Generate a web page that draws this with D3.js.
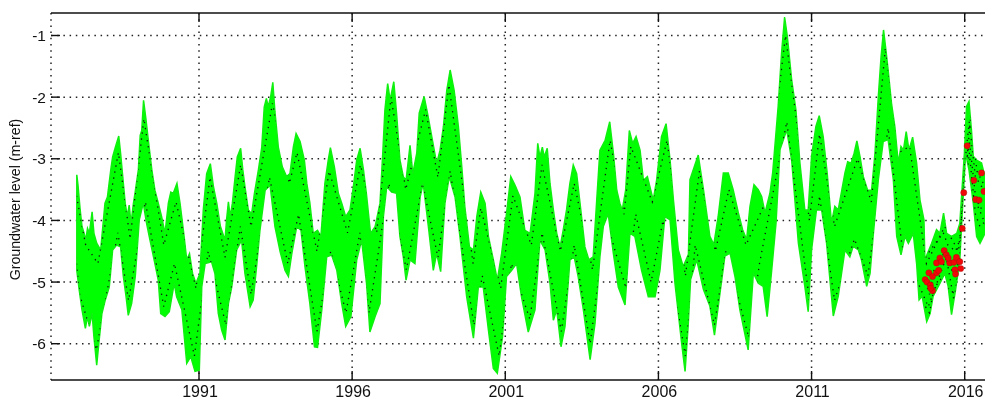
<!DOCTYPE html>
<html><head><meta charset="utf-8">
<script src="https://cdnjs.cloudflare.com/ajax/libs/d3/7.8.5/d3.min.js"></script>
<style>html,body{margin:0;padding:0;background:#fff}svg{display:block;filter:blur(0.35px)}text{font-family:"Liberation Sans",Arial,sans-serif;fill:#111}</style>
</head><body><svg id="c" width="985" height="403"></svg>
<script>
const xTickYears=[1991,1996,2001,2006,2011,2016];
const yTicks=[-1,-2,-3,-4,-5,-6];
const yLabel="Groundwater level (m-ref)";
const upperYears=[1987.01,1987.05,1987.12,1987.18,1987.25,1987.30,1987.36,1987.42,1987.51,1987.57,1987.66,1987.79,1987.86,1987.93,1988.01,1988.12,1988.18,1988.26,1988.38,1988.44,1988.51,1988.59,1988.66,1988.72,1988.78,1988.86,1988.91,1989.02,1989.08,1989.13,1989.19,1989.27,1989.35,1989.46,1989.56,1989.67,1989.78,1989.89,1990.00,1990.08,1990.16,1990.28,1990.38,1990.49,1990.60,1990.69,1990.79,1990.90,1991.03,1991.14,1991.25,1991.37,1991.47,1991.58,1991.70,1991.85,1991.90,1991.96,1992.02,1992.09,1992.18,1992.25,1992.36,1992.43,1992.50,1992.61,1992.72,1992.81,1992.94,1993.05,1993.13,1993.20,1993.26,1993.34,1993.41,1993.48,1993.59,1993.72,1993.86,1993.97,1994.08,1994.17,1994.30,1994.44,1994.52,1994.62,1994.73,1994.87,1994.98,1995.11,1995.22,1995.29,1995.42,1995.55,1995.66,1995.79,1995.93,1996.04,1996.15,1996.26,1996.37,1996.47,1996.60,1996.75,1996.91,1997.00,1997.07,1997.16,1997.24,1997.36,1997.45,1997.56,1997.67,1997.76,1997.89,1997.98,1998.11,1998.19,1998.35,1998.46,1998.60,1998.76,1998.87,1998.98,1999.09,1999.20,1999.33,1999.47,1999.58,1999.68,1999.83,1999.96,2000.07,2000.20,2000.34,2000.45,2000.61,2000.74,2000.88,2001.04,2001.18,2001.32,2001.48,2001.64,2001.81,2001.97,2002.06,2002.13,2002.21,2002.27,2002.37,2002.46,2002.57,2002.68,2002.79,2002.89,2003.00,2003.11,2003.22,2003.33,2003.44,2003.60,2003.73,2003.87,2003.98,2004.09,2004.26,2004.41,2004.53,2004.64,2004.74,2004.82,2004.93,2005.05,2005.16,2005.27,2005.40,2005.51,2005.64,2005.75,2005.83,2005.94,2006.10,2006.25,2006.38,2006.49,2006.65,2006.81,2006.98,2007.03,2007.19,2007.30,2007.47,2007.68,2007.81,2007.95,2008.12,2008.28,2008.44,2008.61,2008.75,2008.88,2008.99,2009.12,2009.26,2009.37,2009.48,2009.64,2009.73,2009.91,2010.02,2010.12,2010.21,2010.35,2010.49,2010.62,2010.78,2010.89,2011.00,2011.14,2011.25,2011.38,2011.51,2011.65,2011.76,2011.87,2012.09,2012.18,2012.29,2012.39,2012.48,2012.58,2012.69,2012.83,2012.96,2013.07,2013.18,2013.27,2013.35,2013.44,2013.50,2013.61,2013.72,2013.83,2013.92,2014.00,2014.09,2014.18,2014.30,2014.43,2014.54,2014.67,2014.70,2014.92,2015.08,2015.19,2015.31,2015.41,2015.57,2015.74,2015.84,2015.99,2016.06,2016.14,2016.22,2016.28,2016.39,2016.55,2016.66,2016.72];
const upperLevels=[-3.26,-3.43,-3.83,-4.10,-4.21,-4.32,-4.13,-4.21,-3.86,-4.21,-4.37,-4.48,-4.10,-3.72,-3.62,-3.18,-2.97,-2.83,-2.63,-2.91,-3.29,-3.72,-3.94,-3.75,-4.05,-3.72,-3.56,-3.18,-2.62,-2.54,-2.05,-2.37,-2.72,-3.18,-3.51,-3.72,-3.94,-4.21,-3.72,-3.54,-3.56,-3.40,-3.72,-4.16,-4.64,-4.54,-4.86,-5.02,-4.86,-3.83,-3.24,-3.08,-3.45,-3.72,-4.10,-4.32,-3.99,-3.70,-3.94,-3.72,-3.29,-2.97,-2.83,-3.18,-3.45,-3.83,-3.89,-3.56,-3.18,-2.81,-2.16,-2.02,-2.16,-1.99,-1.76,-2.24,-2.81,-3.13,-3.29,-3.24,-2.81,-2.59,-2.72,-3.02,-3.40,-3.72,-4.21,-4.16,-4.26,-3.40,-3.02,-2.82,-3.13,-3.56,-3.72,-3.94,-3.83,-3.45,-3.02,-2.83,-3.18,-3.59,-4.21,-4.10,-3.72,-2.91,-2.21,-1.78,-2.05,-1.75,-2.26,-3.02,-3.29,-3.35,-2.78,-3.24,-2.91,-2.26,-1.99,-2.26,-2.64,-3.08,-2.86,-2.48,-1.89,-1.56,-1.89,-2.48,-3.13,-3.78,-4.43,-4.48,-3.94,-3.54,-3.72,-4.26,-4.64,-4.97,-4.54,-3.89,-3.29,-3.43,-3.62,-4.16,-4.21,-3.56,-2.75,-2.97,-2.81,-2.97,-2.83,-3.40,-3.83,-4.21,-4.43,-4.16,-3.83,-3.40,-3.10,-3.24,-3.72,-4.43,-4.64,-4.59,-3.72,-2.86,-2.70,-2.40,-2.91,-3.51,-3.72,-3.83,-3.51,-2.54,-2.75,-2.64,-2.86,-3.35,-3.29,-3.51,-3.67,-3.35,-2.64,-2.43,-3.02,-3.67,-4.48,-4.75,-4.55,-3.34,-3.10,-2.94,-3.50,-4.26,-4.39,-3.94,-3.23,-3.23,-3.50,-3.88,-4.15,-4.31,-3.77,-3.42,-3.50,-3.61,-3.88,-3.56,-3.23,-2.15,-1.29,-0.70,-1.02,-1.72,-2.21,-3.07,-3.83,-3.83,-2.96,-2.48,-2.30,-2.64,-3.23,-4.04,-3.77,-3.83,-3.23,-3.05,-3.07,-2.91,-2.71,-2.96,-3.29,-3.51,-3.51,-2.91,-1.99,-1.34,-0.91,-1.29,-1.56,-2.10,-2.48,-3.07,-2.80,-2.86,-2.56,-2.86,-2.65,-3.07,-3.67,-3.99,-4.64,-4.37,-4.15,-4.21,-3.88,-4.21,-4.26,-4.21,-4.05,-2.91,-2.15,-2.07,-2.53,-2.96,-3.02,-3.07,-3.29,-3.30];
const lowerYears=[1987.01,1987.09,1987.18,1987.29,1987.36,1987.42,1987.51,1987.57,1987.66,1987.73,1987.83,1987.94,1988.07,1988.18,1988.31,1988.44,1988.53,1988.62,1988.69,1988.80,1988.92,1989.05,1989.18,1989.29,1989.40,1989.56,1989.67,1989.75,1989.89,1990.03,1990.19,1990.27,1990.44,1990.60,1990.73,1990.87,1991.01,1991.09,1991.20,1991.41,1991.52,1991.63,1991.74,1991.85,1991.96,1992.07,1992.23,1992.39,1992.50,1992.67,1992.77,1992.88,1992.99,1993.16,1993.32,1993.48,1993.65,1993.81,1993.92,1994.03,1994.19,1994.33,1994.46,1994.62,1994.77,1994.87,1995.01,1995.17,1995.33,1995.50,1995.66,1995.79,1995.96,1996.15,1996.31,1996.47,1996.58,1996.75,1996.91,1997.02,1997.13,1997.29,1997.45,1997.56,1997.67,1997.76,1997.89,1998.05,1998.22,1998.32,1998.49,1998.65,1998.76,1998.89,1999.03,1999.17,1999.36,1999.52,1999.74,1999.96,2000.12,2000.28,2000.45,2000.61,2000.74,2000.91,2001.04,2001.21,2001.37,2001.53,2001.75,2001.97,2002.13,2002.30,2002.46,2002.57,2002.68,2002.82,2002.95,2003.11,2003.25,2003.38,2003.55,2003.77,2003.93,2004.09,2004.20,2004.36,2004.53,2004.69,2004.91,2005.07,2005.23,2005.45,2005.67,2005.89,2006.05,2006.21,2006.38,2006.54,2006.76,2006.87,2006.97,2007.05,2007.25,2007.47,2007.68,2007.83,2008.01,2008.17,2008.34,2008.50,2008.66,2008.93,2009.10,2009.26,2009.42,2009.55,2009.70,2009.84,2009.97,2010.19,2010.35,2010.57,2010.78,2010.89,2011.00,2011.16,2011.33,2011.49,2011.71,2011.87,2012.09,2012.25,2012.36,2012.53,2012.63,2012.80,2012.91,2013.01,2013.18,2013.34,2013.50,2013.67,2013.78,2013.92,2014.05,2014.16,2014.32,2014.43,2014.51,2014.61,2014.76,2014.87,2014.97,2015.19,2015.35,2015.46,2015.57,2015.70,2015.84,2015.92,2016.03,2016.14,2016.28,2016.39,2016.50,2016.66,2016.72];
const lowerLevels=[-4.81,-5.13,-5.45,-5.75,-5.56,-5.72,-5.51,-5.89,-6.35,-5.99,-5.51,-5.29,-5.08,-4.48,-4.40,-4.43,-4.91,-5.24,-5.54,-5.35,-4.91,-3.99,-3.72,-4.05,-4.32,-4.70,-4.97,-5.51,-5.56,-5.48,-5.02,-5.24,-5.45,-6.32,-6.21,-6.45,-6.43,-5.08,-4.70,-4.67,-4.86,-5.51,-5.78,-5.94,-5.35,-5.08,-4.48,-4.32,-4.86,-5.40,-5.29,-4.75,-4.16,-3.51,-3.43,-4.10,-4.51,-4.81,-4.91,-4.54,-4.10,-4.16,-4.75,-5.35,-6.05,-6.06,-5.45,-4.59,-4.56,-4.81,-5.35,-5.72,-5.56,-4.64,-4.32,-5.02,-5.81,-5.56,-5.35,-3.94,-3.45,-3.54,-3.56,-4.26,-4.59,-4.97,-4.64,-4.70,-3.62,-3.40,-4.10,-4.81,-4.54,-4.83,-3.72,-3.29,-3.62,-4.26,-5.24,-5.91,-5.08,-5.08,-5.78,-6.40,-6.48,-5.89,-4.91,-4.81,-4.70,-5.24,-5.81,-5.45,-4.32,-4.48,-5.02,-5.62,-5.45,-6.05,-5.72,-4.64,-4.59,-4.91,-5.45,-6.26,-5.67,-4.59,-4.10,-3.89,-4.54,-5.08,-5.37,-4.21,-4.26,-4.81,-5.24,-5.24,-4.81,-3.94,-3.99,-5.02,-6.00,-6.45,-5.72,-4.96,-4.64,-5.12,-5.39,-5.86,-5.18,-4.58,-4.53,-4.91,-5.45,-6.10,-4.85,-5.02,-5.07,-5.56,-4.80,-4.04,-2.85,-2.53,-3.02,-4.37,-5.07,-5.48,-4.48,-3.83,-3.83,-4.37,-5.55,-5.23,-4.48,-4.59,-4.42,-4.48,-4.64,-5.07,-4.86,-4.26,-3.34,-2.72,-2.69,-3.34,-4.26,-4.56,-4.26,-4.37,-4.21,-4.70,-5.29,-5.23,-5.64,-5.51,-5.23,-5.02,-4.86,-5.07,-5.53,-5.13,-4.64,-3.88,-2.91,-3.18,-3.72,-4.26,-4.37,-4.21,-4.20];
const quantTopYears=[1987.0,1987.3,1987.7,1988.37,1988.75,1989.2,1989.85,1990.25,1990.9,1991.36,1991.85,1992.36,1992.7,1993.4,1993.95,1994.2,1994.85,1995.25,1995.85,1996.27,1996.8,1997.27,1997.75,1998.4,1998.8,1999.16,1999.95,2000.2,2000.85,2001.25,2001.85,2002.2,2002.8,2003.25,2003.85,2004.42,2004.88,2005.1,2005.8,2006.28,2006.88,2007.34,2007.86,2008.3,2008.86,2009.5,2010.15,2010.93,2011.26,2011.75,2012.5,2012.95,2013.41,2013.85,2014.2,2014.75,2015.35,2015.8,2016.2,2016.4,2016.71];
const quantTop=[-3.6,-4.4,-4.7,-2.9,-4.3,-2.35,-4.4,-3.7,-5.1,-3.3,-4.6,-3.1,-4.1,-2.1,-3.4,-2.9,-4.5,-3.2,-4.2,-3.1,-4.2,-2.0,-3.5,-2.2,-3.3,-1.8,-4.7,-3.8,-5.1,-3.6,-4.4,-3.1,-4.5,-3.4,-4.8,-2.7,-3.9,-2.8,-3.7,-2.7,-4.9,-3.2,-4.5,-3.5,-4.4,-3.7,-1.0,-4.0,-2.6,-4.1,-3.0,-3.7,-1.2,-2.9,-2.8,-4.7,-4.1,-4.5,-2.3,-3.2,-3.5];
const quantBottomYears=[1987.0,1987.1,1987.65,1988.35,1988.7,1989.25,1989.85,1990.2,1990.85,1991.3,1991.88,1992.35,1992.7,1993.3,1993.9,1994.25,1994.85,1995.3,1995.8,1996.25,1996.55,1997.2,1997.77,1998.3,1998.8,1999.2,1999.98,2000.25,2000.8,2001.2,2001.8,2002.2,2002.83,2003.25,2003.77,2004.3,2004.94,2005.26,2005.76,2006.15,2006.88,2007.2,2007.83,2008.2,2008.95,2009.3,2010.19,2010.93,2011.26,2011.75,2012.4,2012.84,2013.5,2013.95,2014.81,2015.4,2015.65,2016.2,2016.71];
const quantBottom=[-4.7,-5.2,-6.1,-4.2,-5.3,-3.7,-5.4,-4.7,-6.2,-4.5,-5.7,-4.1,-5.2,-3.3,-4.7,-3.9,-5.8,-4.5,-5.5,-4.2,-5.5,-3.4,-4.8,-3.4,-4.6,-3.2,-5.7,-4.9,-6.2,-4.7,-5.6,-4.2,-5.8,-4.4,-6.0,-4.0,-5.1,-3.9,-5.0,-4.0,-6.2,-4.4,-5.7,-4.5,-5.9,-4.7,-2.4,-5.3,-3.6,-5.3,-4.3,-4.9,-2.5,-4.4,-5.4,-4.6,-5.3,-3.5,-4.1];
const lateYears=[2014.72,2014.85,2015.0,2015.3,2015.45,2015.7,2015.85,2016.0,2016.15,2016.35,2016.5,2016.7];
const lateA=[-4.6,-4.5,-4.4,-4.2,-4.4,-4.5,-4.3,-3.1,-2.4,-3.3,-3.4,-3.6];
const lateB=[-5.4,-5.5,-5.1,-4.9,-5.1,-5.2,-4.8,-3.6,-2.9,-3.9,-4.1,-4.0];
const lateC=[-5.0,-5.2,-4.8,-4.55,-4.7,-4.9,-4.55,-3.3,-2.7,-3.6,-3.8,-3.8];
const obsYears=[2016.08,2016.30,2016.55,2015.97,2016.63,2016.36,2016.47,2015.92,2014.71,2014.83,2014.95,2014.77,2014.88,2014.95,2014.89,2015.08,2015.15,2015.08,2015.19,2015.24,2015.33,2015.40,2015.51,2015.65,2015.46,2015.73,2015.84,2015.87,2015.68,2015.70];
const obsLevels=[-2.79,-3.35,-3.23,-3.55,-3.53,-3.66,-3.67,-4.13,-4.96,-4.85,-4.91,-5.00,-5.05,-5.14,-5.10,-4.85,-4.81,-4.69,-4.61,-4.67,-4.49,-4.56,-4.69,-4.68,-4.61,-4.60,-4.67,-4.78,-4.80,-4.87];

const svg=d3.select("#c");
const L=51,R=985,T=13,B=380;
const x=d3.scaleLinear().domain([1991,2016]).range([199,964.7]);
const y=d3.scaleLinear().domain([-1,-6]).range([35.5,343.7]);
const dot="1.5 4.7";
const gridG=svg.append("g").attr("stroke","#222").attr("stroke-width",1.5).attr("stroke-dasharray",dot);
gridG.selectAll(".h").data(yTicks).join("line").attr("x1",L).attr("x2",R).attr("y1",d=>y(d)).attr("y2",d=>y(d));
gridG.selectAll(".v").data(xTickYears).join("line").attr("y1",T).attr("y2",B).attr("x1",d=>x(d)).attr("x2",d=>x(d));
gridG.append("line").attr("x1",L).attr("x2",L).attr("y1",T).attr("y2",B);

const upperF=d3.zip(upperYears,upperLevels), lowerF=d3.zip(lowerYears,lowerLevels);
const poly=upperF.map(d=>[x(d[0]),y(d[1])]).concat(lowerF.slice().reverse().map(d=>[x(d[0]),y(d[1])]));
const bandD=d3.line()(poly)+"Z";
svg.append("clipPath").attr("id","band").append("path").attr("d",bandD);
svg.append("path").attr("d",bandD).attr("fill","#00ff00").attr("stroke","#10f010").attr("stroke-width",1.5).attr("stroke-linejoin","miter");

const ln=d3.line().x(d=>x(d[0])).y(d=>y(d[1]));
const dots=svg.append("g").attr("clip-path","url(#band)");
[[quantTopYears,quantTop],[quantBottomYears,quantBottom],[lateYears,lateA],[lateYears,lateB],[lateYears,lateC]].forEach(([a,b])=>{
  dots.append("path").attr("d",ln(d3.zip(a,b))).attr("fill","none").attr("stroke","#111").attr("stroke-width",1.3).attr("stroke-dasharray","1.3 4.8");
});

svg.selectAll(".o").data(d3.zip(obsYears,obsLevels)).join("circle").attr("cx",d=>x(d[0])).attr("cy",d=>y(d[1])).attr("r",3.1).attr("fill","#f00808").attr("stroke","#a01010").attr("stroke-width",.4);

const frame=svg.append("g").attr("stroke","#111");
frame.append("line").attr("x1",L).attr("x2",R).attr("y1",T).attr("y2",T).attr("stroke-width",1.6);
frame.append("line").attr("x1",L).attr("x2",R).attr("y1",B).attr("y2",B).attr("stroke-width",1.6);
frame.selectAll(".tb").data(xTickYears).join("line").attr("x1",d=>x(d)).attr("x2",d=>x(d)).attr("y1",B).attr("y2",B-9).attr("stroke-width",1.4);
frame.selectAll(".tt").data(xTickYears).join("line").attr("x1",d=>x(d)).attr("x2",d=>x(d)).attr("y1",T).attr("y2",T+9).attr("stroke-width",1.4);
frame.selectAll(".tl").data(yTicks).join("line").attr("x1",L).attr("x2",L+9).attr("y1",d=>y(d)).attr("y2",d=>y(d)).attr("stroke-width",1.4);

svg.selectAll(".xl").data(xTickYears).join("text").attr("x",d=>x(d)+1).attr("y",397).attr("text-anchor","middle").attr("font-size",16).text(d=>d);
svg.selectAll(".yl").data(yTicks).join("text").attr("x",46).attr("y",d=>y(d)+5.5).attr("text-anchor","end").attr("font-size",15.5).text(d=>d);
svg.append("text").attr("transform","translate(20,199.5) rotate(-90)").attr("text-anchor","middle").attr("font-size",14.2).text(yLabel);
</script></body></html>
